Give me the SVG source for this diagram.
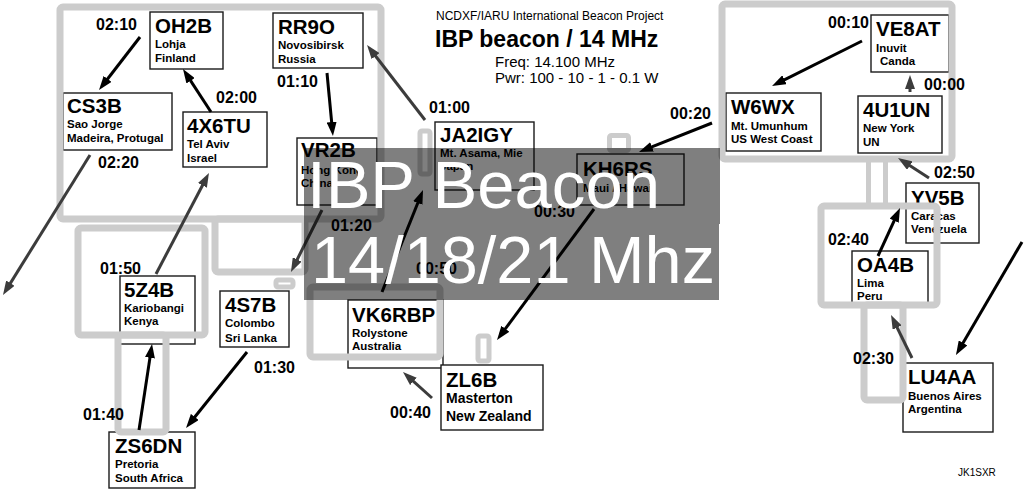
<svg xmlns="http://www.w3.org/2000/svg" width="1024" height="494" viewBox="0 0 1024 494">
<style>
.map rect{fill:none;stroke:#cccccc;stroke-width:7;stroke-linejoin:round}
.map rect.sm{stroke-width:5}
.box{fill:#fff;stroke:#1a1a1a;stroke-width:1.4}
text{font-family:"Liberation Sans",Arial,sans-serif;fill:#000}
.t{font-size:20.5px;font-weight:bold}
.s{font-size:11.5px;font-weight:bold}
.s14{font-size:14px;font-weight:bold}
.tm{font-size:16px;font-weight:bold}
.a{stroke:#000;stroke-width:3;fill:none;marker-end:url(#ah)}
.ad{stroke:#3c3c3c;stroke-width:3;fill:none;marker-end:url(#ahd)}
.big{fill:#fff;font-size:67px}
</style>
<defs>
<marker id="ah" markerUnits="userSpaceOnUse" markerWidth="14" markerHeight="10" refX="7" refY="5" orient="auto"><path d="M0,0 L14,5 L0,10 Z" fill="#000"/></marker>
<marker id="ahd" markerUnits="userSpaceOnUse" markerWidth="14" markerHeight="10" refX="7" refY="5" orient="auto"><path d="M0,0 L14,5 L0,10 Z" fill="#3c3c3c"/></marker>
</defs>
<rect width="1024" height="494" fill="#fff"/>

<g id="header">
<text x="436" y="20" font-size="12">NCDXF/IARU International Beacon Project</text>
<text x="435" y="47" font-size="23" font-weight="bold">IBP beacon / 14 MHz</text>
<text x="495" y="67" font-size="15">Freq: 14.100 MHz</text>
<text x="495" y="83" font-size="15">Pwr: 100 - 10 - 1 - 0.1 W</text>
</g>

<g id="OH2B"><rect class="box" x="150" y="12" width="73" height="57"/><text class="t" x="155" y="33">OH2B</text><text class="s" x="155" y="48">Lohja</text><text class="s" x="155" y="62">Finland</text></g>
<g id="RR9O"><rect class="box" x="273" y="13" width="90" height="55"/><text class="t" x="278" y="34">RR9O</text><text class="s" x="278" y="49">Novosibirsk</text><text class="s" x="278" y="63">Russia</text></g>
<g id="CS3B"><rect class="box" x="63" y="93" width="109" height="57"/><text class="t" x="67" y="113">CS3B</text><text class="s" x="67" y="128">Sao Jorge</text><text class="s" x="67" y="142">Madeira, Protugal</text></g>
<g id="4X6TU"><rect class="box" x="183" y="112" width="84" height="55"/><text class="t" x="187" y="133">4X6TU</text><text class="s" x="187" y="148">Tel Aviv</text><text class="s" x="187" y="162">Israel</text></g>
<g id="VR2B"><rect class="box" x="297" y="138" width="80" height="67"/><text class="t" x="301" y="157">VR2B</text><text class="s" x="301" y="174">Hong Kong</text><text class="s" x="301" y="187">China</text></g>
<g id="JA2IGY"><rect class="box" x="435" y="122" width="99" height="68"/><text class="t" x="440" y="142">JA2IGY</text><text class="s" x="440" y="157">Mt. Asama, Mie</text><text class="s" x="440" y="170">Japan</text></g>
<g id="KH6RS"><rect class="box" x="577" y="154" width="107" height="51"/><text class="t" x="583" y="176">KH6RS</text><text class="s" x="583" y="192">Maui / Hawaii</text></g>
<g id="W6WX"><rect class="box" x="726" y="93" width="95" height="58"/><text class="t" x="731" y="114">W6WX</text><text class="s" x="731" y="130">Mt. Umunhum</text><text class="s" x="731" y="143">US West Coast</text></g>
<g id="VE8AT"><rect class="box" x="871" y="15" width="78" height="57"/><text class="t" x="876" y="36">VE8AT</text><text class="s" x="876" y="52">Inuvit</text><text class="s" x="880" y="65">Canda</text></g>
<g id="4U1UN"><rect class="box" x="858" y="96" width="84" height="57"/><text class="t" x="863" y="117">4U1UN</text><text class="s" x="863" y="132">New York</text><text class="s" x="863" y="146">UN</text></g>
<g id="YV5B"><rect class="box" x="906" y="183" width="73" height="60"/><text class="t" x="911" y="205">YV5B</text><text class="s" x="911" y="220">Caracas</text><text class="s" x="911" y="233">Venezuela</text></g>
<g id="OA4B"><rect class="box" x="852" y="251" width="76" height="53"/><text class="t" x="857" y="272">OA4B</text><text class="s" x="857" y="287">Lima</text><text class="s" x="857" y="300">Peru</text></g>
<g id="LU4AA"><rect class="box" x="903" y="363" width="90" height="69"/><text class="t" x="908" y="384">LU4AA</text><text class="s" x="908" y="400">Buenos Aires</text><text class="s" x="908" y="413">Argentina</text></g>
<g id="5Z4B"><rect class="box" x="120" y="276" width="75" height="68"/><text class="t" x="124" y="297">5Z4B</text><text class="s" x="124" y="312">Kariobangi</text><text class="s" x="124" y="325">Kenya</text></g>
<g id="4S7B"><rect class="box" x="220" y="291" width="69" height="56"/><text class="t" x="225" y="312">4S7B</text><text class="s" x="225" y="327">Colombo</text><text class="s" x="225" y="342">Sri Lanka</text></g>
<g id="ZS6DN"><rect class="box" x="109" y="432" width="86" height="56"/><text class="t" x="115" y="453">ZS6DN</text><text class="s" x="115" y="468">Pretoria</text><text class="s" x="115" y="482">South Africa</text></g>
<g id="VK6RBP"><rect class="box" x="348" y="300" width="95" height="68"/><text class="t" x="352" y="322">VK6RBP</text><text class="s" x="352" y="337">Rolystone</text><text class="s" x="352" y="350">Australia</text></g>
<g id="ZL6B"><rect class="box" x="441" y="365" width="102" height="65"/><text class="t" x="446" y="387">ZL6B</text><text class="s14" x="446" y="403">Masterton</text><text class="s14" x="446" y="421">New Zealand</text></g>

<g id="map" class="map">
<rect x="60" y="7" width="321" height="212" rx="3"/>
<rect x="215" y="219" width="90" height="53" rx="3"/>
<rect class="sm" x="276" y="280" width="17" height="7" rx="2"/>
<rect class="sm" x="420" y="131" width="10" height="43" rx="2"/>
<rect class="sm" x="609.5" y="135.5" width="19" height="15" rx="2"/>
<rect x="78" y="228" width="127" height="107" rx="3"/>
<rect x="118" y="335" width="48" height="97" rx="3"/>
<rect x="310" y="287" width="130" height="70" rx="3"/>
<rect class="sm" x="478" y="336" width="11" height="25" rx="2"/>
<rect x="722" y="4" width="230" height="155" rx="3"/>
<rect class="sm" x="868.5" y="159" width="17" height="47"/>
<rect x="821" y="206" width="116" height="99" rx="3"/>
<rect x="864" y="305" width="39" height="95" rx="3"/>
</g>

<g id="connectors">
<line class="a" x1="140" y1="37" x2="103.3" y2="84.5"/>
<line class="a" x1="211" y1="112" x2="186.8" y2="74.9"/>
<line class="a" x1="327" y1="73" x2="332.3" y2="129"/>
<line class="ad" x1="90" y1="155" x2="6.7" y2="289.1"/>
<line class="ad" x1="156" y1="274" x2="205.7" y2="179.2"/>
<line class="ad" x1="425" y1="120" x2="371.3" y2="50.5"/>
<line class="ad" x1="322" y1="210" x2="294.1" y2="265.7"/>
<line class="a" x1="382" y1="292" x2="420.4" y2="196.5"/>
<line class="a" x1="594" y1="209" x2="501.2" y2="334.4"/>
<line class="a" x1="712" y1="123" x2="645.5" y2="149.4"/>
<line class="a" x1="862" y1="41" x2="778.3" y2="82.9"/>
<line class="ad" x1="910" y1="92" x2="910" y2="82"/>
<line class="ad" x1="929" y1="178" x2="903.9" y2="161.8"/>
<line class="a" x1="878" y1="256" x2="897.1" y2="214.4"/>
<line class="ad" x1="912" y1="358" x2="894.1" y2="321.3"/>
<line class="a" x1="1022" y1="242" x2="959.5" y2="349"/>
<line class="a" x1="139" y1="430" x2="151" y2="350.9"/>
<line class="a" x1="247" y1="352" x2="190.4" y2="422.5"/>
<line class="ad" x1="432" y1="398" x2="408.2" y2="376.7"/>
<g class="tm">
<text class="tm" x="96" y="30">02:10</text>
<text class="tm" x="216" y="103">02:00</text>
<text class="tm" x="277" y="87">01:10</text>
<text class="tm" x="98" y="168">02:20</text>
<text class="tm" x="429" y="113">01:00</text>
<text class="tm" x="670" y="119">00:20</text>
<text class="tm" x="828" y="28">00:10</text>
<text class="tm" x="924" y="90">00:00</text>
<text class="tm" x="934" y="178">02:50</text>
<text class="tm" x="828" y="245">02:40</text>
<text class="tm" x="853" y="364">02:30</text>
<text class="tm" x="100" y="274">01:50</text>
<text class="tm" x="83" y="420">01:40</text>
<text class="tm" x="254" y="373">01:30</text>
<text class="tm" x="331" y="231">01:20</text>
<text class="tm" x="416" y="274">00:50</text>
<text class="tm" x="534" y="217">00:30</text>
<text class="tm" x="390" y="418">00:40</text>
</g>
</g>

<g id="banner">
<rect x="304" y="148" width="416" height="76" fill="#000" fill-opacity="0.5"/>
<rect x="304" y="224" width="415" height="76" fill="#000" fill-opacity="0.5"/>
<text class="big" x="307" y="208" font-size="76" textLength="353" lengthAdjust="spacingAndGlyphs">IBP Beacon</text>
<text class="big" x="311" y="283" textLength="404" lengthAdjust="spacingAndGlyphs">14/18/21 Mhz</text>
</g>

<text x="958" y="476" font-size="10">JK1SXR</text>
</svg>
